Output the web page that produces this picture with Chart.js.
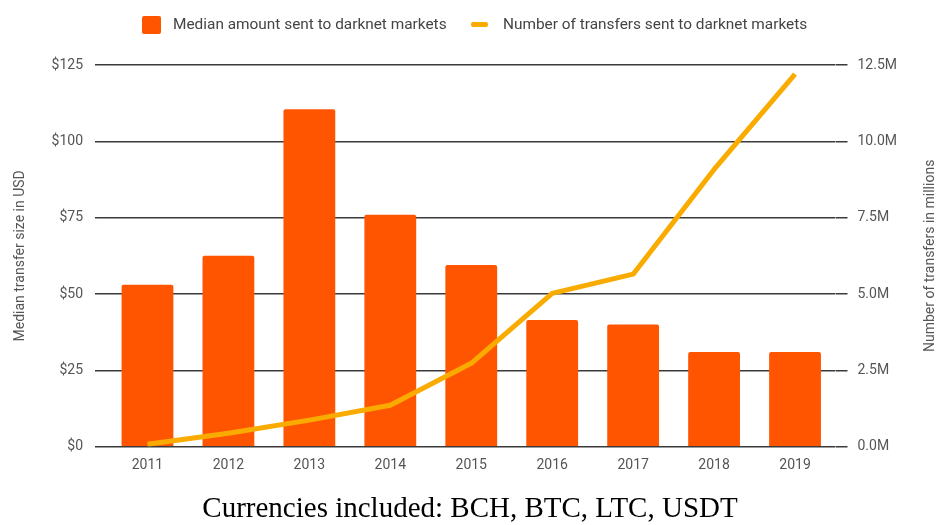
<!DOCTYPE html>
<html>
<head>
<meta charset="utf-8">
<script src="https://cdn.jsdelivr.net/npm/chart.js@4.4.0/dist/chart.umd.min.js"></script>
<style>
  html, body { margin: 0; padding: 0; background: #fff; }
  #wrap { position: relative; width: 940px; height: 525px; overflow: hidden; }
  #c { position: absolute; left: 0; top: 0; }
  .leg { position: absolute; font-family: Roboto, sans-serif; font-size: 15.4px; color: #444; white-space: nowrap; line-height: 18px; }
  .sw { position: absolute; }
  #caption { position: absolute; left: 0; width: 940px; top: 491px; text-align: center;
    font-family: "Liberation Serif", "Times New Roman", serif; font-size: 29px; color: #000; line-height: 32px; }
</style>
</head>
<body>
<div id="wrap">
  <canvas id="c" width="940" height="525"></canvas>
  <div class="sw" style="left:142px;top:16px;width:19px;height:18px;background:#FF5500;border-radius:2px;"></div>
  <div class="leg" id="leg1" style="left:173px;top:15px;"></div>
  <div class="sw" style="left:471px;top:22px;width:17px;height:5px;background:#F9AB00;border-radius:2px;"></div>
  <div class="leg" id="leg2" style="left:503px;top:15px;"></div>
  <div id="caption">Currencies included: BCH, BTC, LTC, USDT</div>
</div>
<script>
const years = ['2011','2012','2013','2014','2015','2016','2017','2018','2019'];
const medianUSD = [53, 62.5, 110.5, 76, 59.5, 41.5, 40, 31, 31];
const transfersM = [0.08, 0.44, 0.87, 1.36, 2.73, 5.02, 5.65, 9.08, 12.2];
const barLabel = 'Median amount sent to darknet markets';
const lineLabel = 'Number of transfers sent to darknet markets';
const leftTitle = 'Median transfer size in USD';
const rightTitle = 'Number of transfers in millions';

document.getElementById('leg1').textContent = barLabel;
document.getElementById('leg2').textContent = lineLabel;

const gridColor = '#3a3a3a';
const tickColor = '#555';
const tickFont = { family: 'Roboto', size: 14 };

// Right axis title reads bottom-to-top in the reference
const rightTitlePlugin = {
  id: 'rightTitle',
  afterDraw(chart) {
    const s = chart.scales.y1;
    const ctx = chart.ctx;
    ctx.save();
    ctx.translate(930, (s.top + s.bottom) / 2);
    ctx.rotate(-Math.PI / 2);
    ctx.font = '14px Roboto';
    ctx.fillStyle = tickColor;
    ctx.textAlign = 'center';
    ctx.textBaseline = 'middle';
    ctx.fillText(rightTitle, 0, 0);
    ctx.restore();
  }
};

new Chart(document.getElementById('c'), {
  data: {
    labels: years,
    datasets: [
      {
        type: 'line', label: lineLabel, data: transfersM, yAxisID: 'y1',
        borderColor: '#F9AB00', backgroundColor: '#F9AB00', borderWidth: 5,
        pointRadius: 0, tension: 0, order: 0, borderCapStyle: 'butt', borderJoinStyle: 'round'
      },
      {
        type: 'bar', label: barLabel, data: medianUSD, yAxisID: 'y',
        backgroundColor: '#FF5500', borderWidth: 0, borderRadius: 2,
        barPercentage: 0.64, categoryPercentage: 1.0, order: 1
      }
    ]
  },
  options: {
    responsive: false, animation: false, devicePixelRatio: 1,
    layout: { padding: { top: 65, left: 0, right: 0, bottom: 0 } },
    plugins: { legend: { display: false }, tooltip: { enabled: false } },
    scales: {
      x: {
        grid: { display: false, drawTicks: false },
        border: { display: false },
        ticks: { color: tickColor, font: tickFont, padding: 10 },
        afterFit: s => { s.height = 525 - 446.7; }
      },
      y: {
        position: 'left', min: 0, max: 125,
        ticks: { stepSize: 25, color: tickColor, font: tickFont, padding: 12, callback: v => '$' + v },
        grid: { color: gridColor, lineWidth: 1.5, tickLength: 12, drawTicks: true },
        border: { display: false },
        title: { display: true, text: leftTitle, color: tickColor, font: { family: 'Roboto', size: 14 }, padding: { top: 12, bottom: 0 } },
        afterFit: s => { s.width = 107; }
      },
      y1: {
        position: 'right', min: 0, max: 12.5,
        ticks: { stepSize: 2.5, color: tickColor, font: tickFont, padding: 10, callback: v => v.toFixed(1) + 'M' },
        grid: { color: gridColor, lineWidth: 1.5, tickLength: 12, drawOnChartArea: false, drawTicks: true },
        border: { display: false },
        title: { display: false },
        afterFit: s => { s.width = 940 - 835.5; }
      }
    }
  },
  plugins: [rightTitlePlugin]
});
</script>
</body>
</html>
